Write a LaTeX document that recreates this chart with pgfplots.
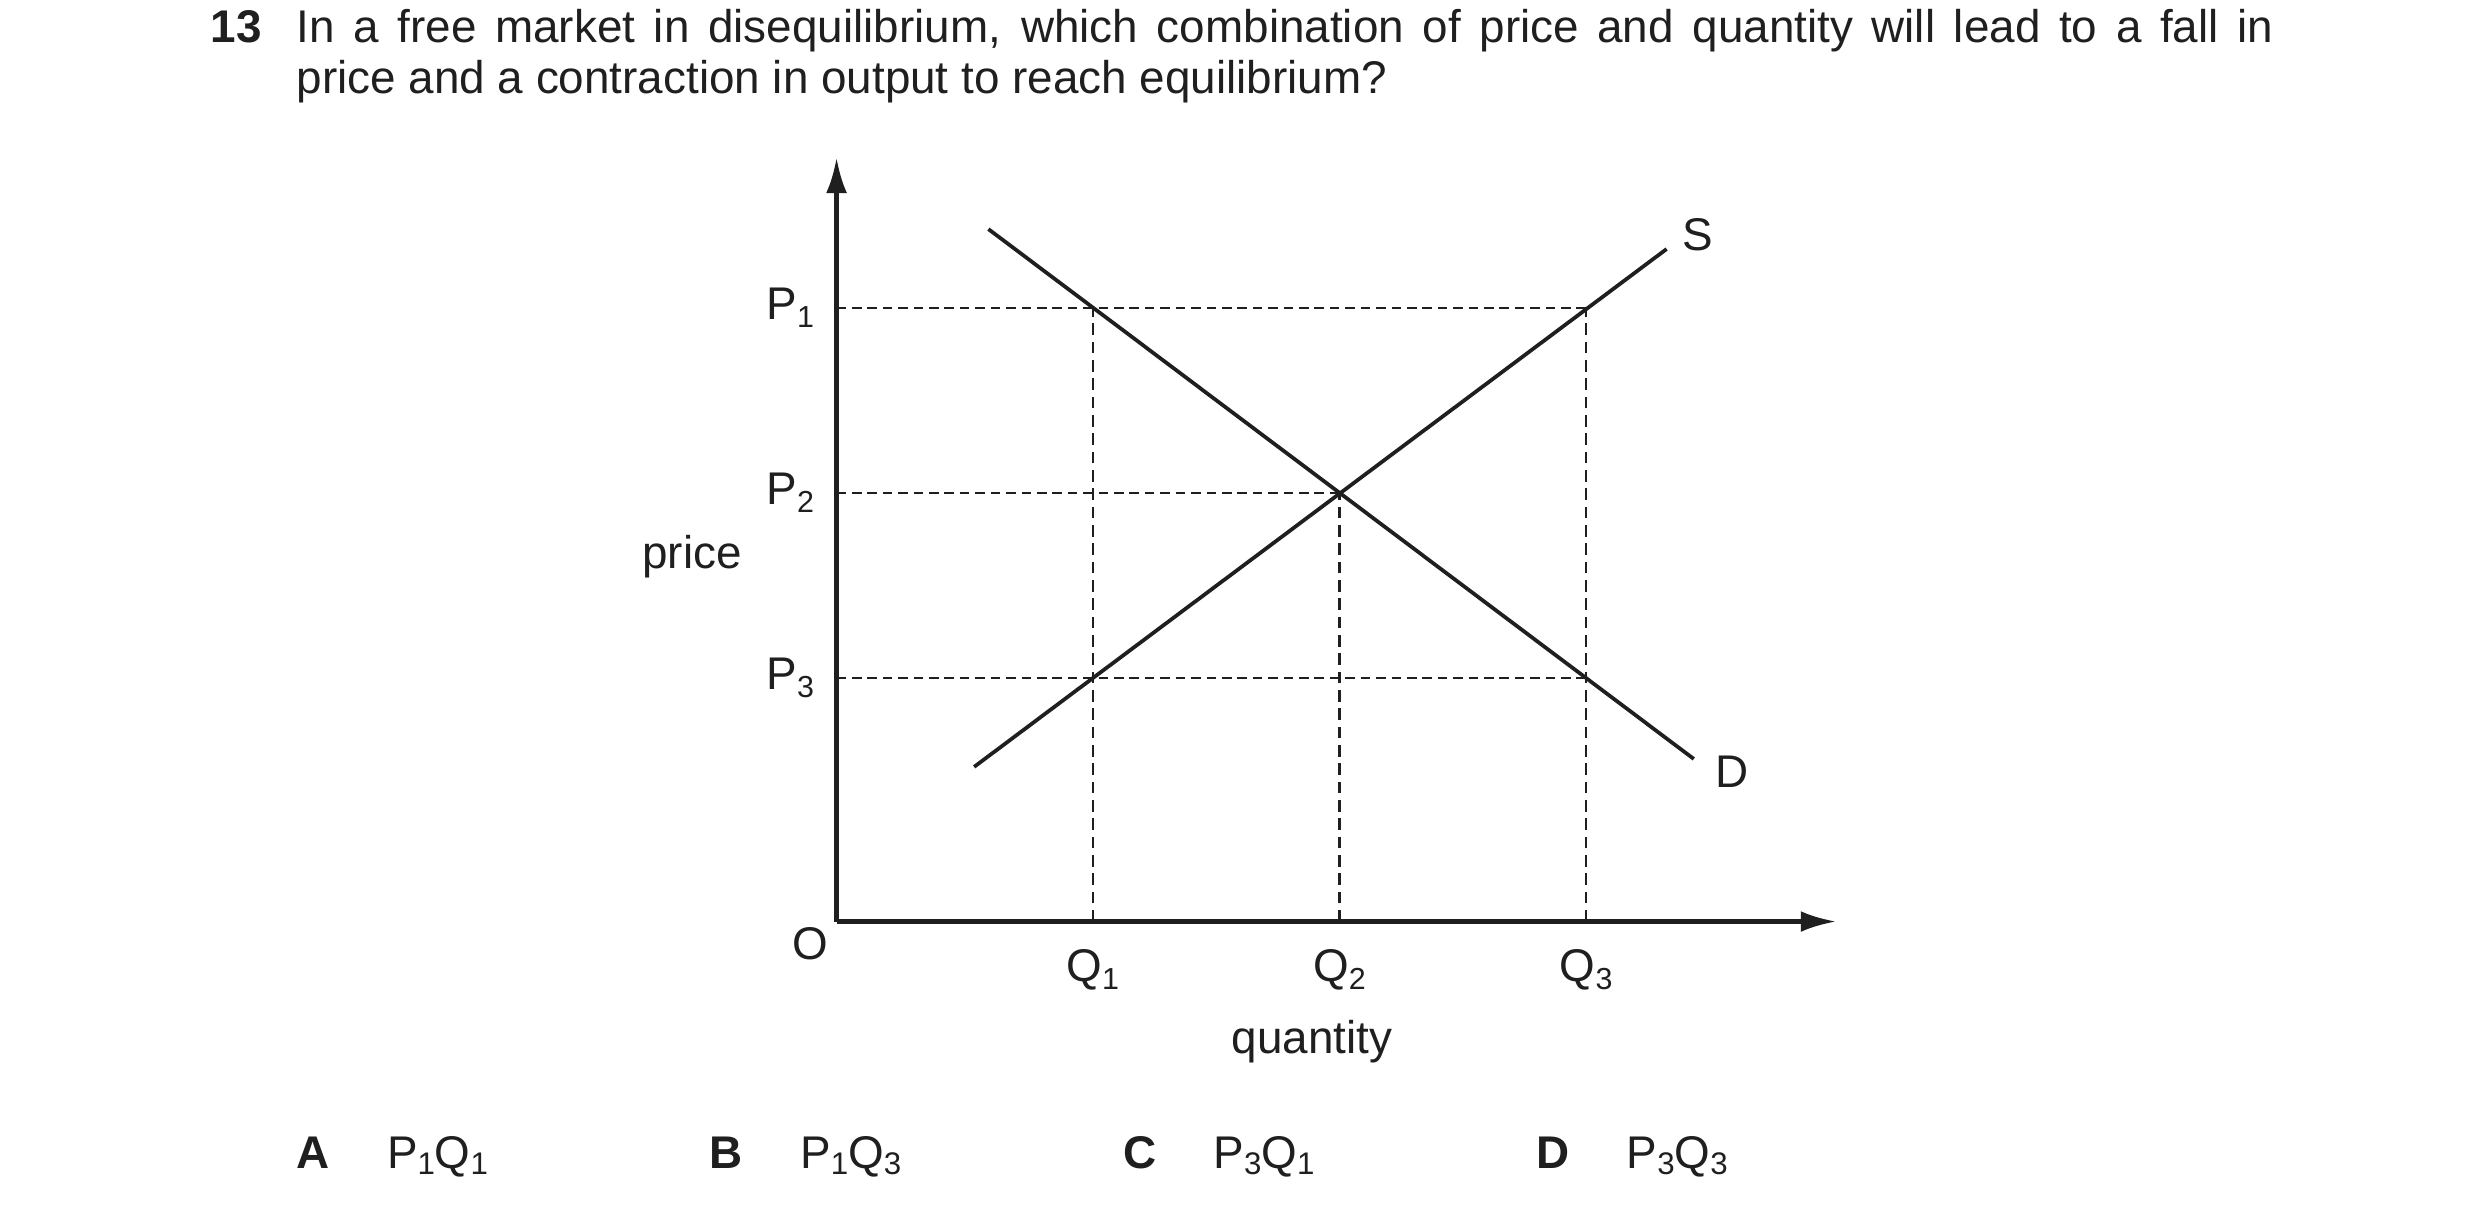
\documentclass[border=0pt]{standalone}
\usepackage{fontspec}
\setmainfont{Liberation Sans}
\usepackage{pgfplots}
\pgfplotsset{compat=1.18}
\usetikzlibrary{arrows.meta}
\definecolor{ink}{gray}{0.12}
% subscripts: chart labels and answer options
\newcommand\sub[1]{\raisebox{-2pt}{\fontsize{7.3}{8}\selectfont #1}}
\newcommand\osub[1]{\raisebox{-1.5pt}{\fontsize{7.5}{9}\selectfont #1}}

\begin{document}
\begin{tikzpicture}[font=\fontsize{11}{13}\selectfont, text=ink]
\path[use as bounding box] (0,0) rectangle (595.27pt,291.40pt);

% question
\node[anchor=base west, inner sep=0] at (50.4pt,281.2pt) {\bfseries 13};
\node[anchor=base west, inner sep=0] at (71.0pt,281.2pt)
  {\makebox[474.5pt][s]{In a free market in disequilibrium, which combination of price and quantity will lead to a fall in}};
\node[anchor=base west, inner sep=0] at (71.0pt,269.0pt)
  {price and a contraction in output to reach equilibrium?};

\begin{axis}[
  at={(200.8pt,70.2pt)}, anchor=south west,
  x=0.37964pt, y=0.37964pt,
  xmin=0, xmax=632, ymin=0, ymax=483,
  axis lines=left, clip=false,
  axis line style={ink, line width=1.05pt, -{Latex[length=8.5pt,width=5pt]}},
  xtick={162,318,474}, xticklabels={Q\sub{1},Q\sub{2},Q\sub{3}},
  ytick={154,271,388}, yticklabels={P\sub{3},P\sub{2},P\sub{1}},
  major tick length=0pt,
  tick style={draw=none},
  xticklabel style={anchor=north, inner sep=0pt, yshift=-6.4pt, text=ink},
  yticklabel style={anchor=east, inner sep=0pt, xshift=-5.2pt, text=ink},
]
  % guide lines
  \addplot[ink, line width=0.55pt, dash pattern=on 2.3pt off 1.4pt] coordinates {(0,388) (474,388)};
  \addplot[ink, line width=0.55pt, dash pattern=on 2.3pt off 1.4pt] coordinates {(0,271) (318,271)};
  \addplot[ink, line width=0.55pt, dash pattern=on 2.3pt off 1.4pt] coordinates {(0,154) (474,154)};
  \addplot[ink, line width=0.55pt, dash pattern=on 2.8pt off 1.6pt] coordinates {(162,0) (162,388)};
  \addplot[ink, line width=0.55pt, dash pattern=on 2.8pt off 1.6pt] coordinates {(318,0) (318,271)};
  \addplot[ink, line width=0.55pt, dash pattern=on 2.8pt off 1.6pt] coordinates {(474,0) (474,388)};

  % demand and supply
  \addplot[ink, line width=0.9pt] coordinates {(96,437.8) (542,102.8)};
  \addplot[ink, line width=0.9pt] coordinates {(87,97.8) (524.8,425.2)};

  \node[anchor=center, inner sep=0] at (axis cs:-16.9,-14.1) {O};
  \node[anchor=base west, inner sep=0] at (axis cs:-123.3,223.4) {price};
  \node[anchor=center, inner sep=0] at (axis cs:300.5,-76) {quantity};
  \node[anchor=base west, inner sep=0] at (axis cs:534.5,424.1) {S};
  \node[anchor=center, inner sep=0] at (axis cs:566,95) {D};
\end{axis}

% answer options
\node[anchor=base west, inner sep=0] at (71.0pt,11.0pt) {\bfseries A};
\node[anchor=base west, inner sep=0] at (92.7pt,11.0pt) {P\osub{1}Q\osub{1}};
\node[anchor=base west, inner sep=0] at (170.2pt,11.0pt) {\bfseries B};
\node[anchor=base west, inner sep=0] at (191.9pt,11.0pt) {P\osub{1}Q\osub{3}};
\node[anchor=base west, inner sep=0] at (269.4pt,11.0pt) {\bfseries C};
\node[anchor=base west, inner sep=0] at (291.1pt,11.0pt) {P\osub{3}Q\osub{1}};
\node[anchor=base west, inner sep=0] at (368.6pt,11.0pt) {\bfseries D};
\node[anchor=base west, inner sep=0] at (390.3pt,11.0pt) {P\osub{3}Q\osub{3}};
\end{tikzpicture}
\end{document}
